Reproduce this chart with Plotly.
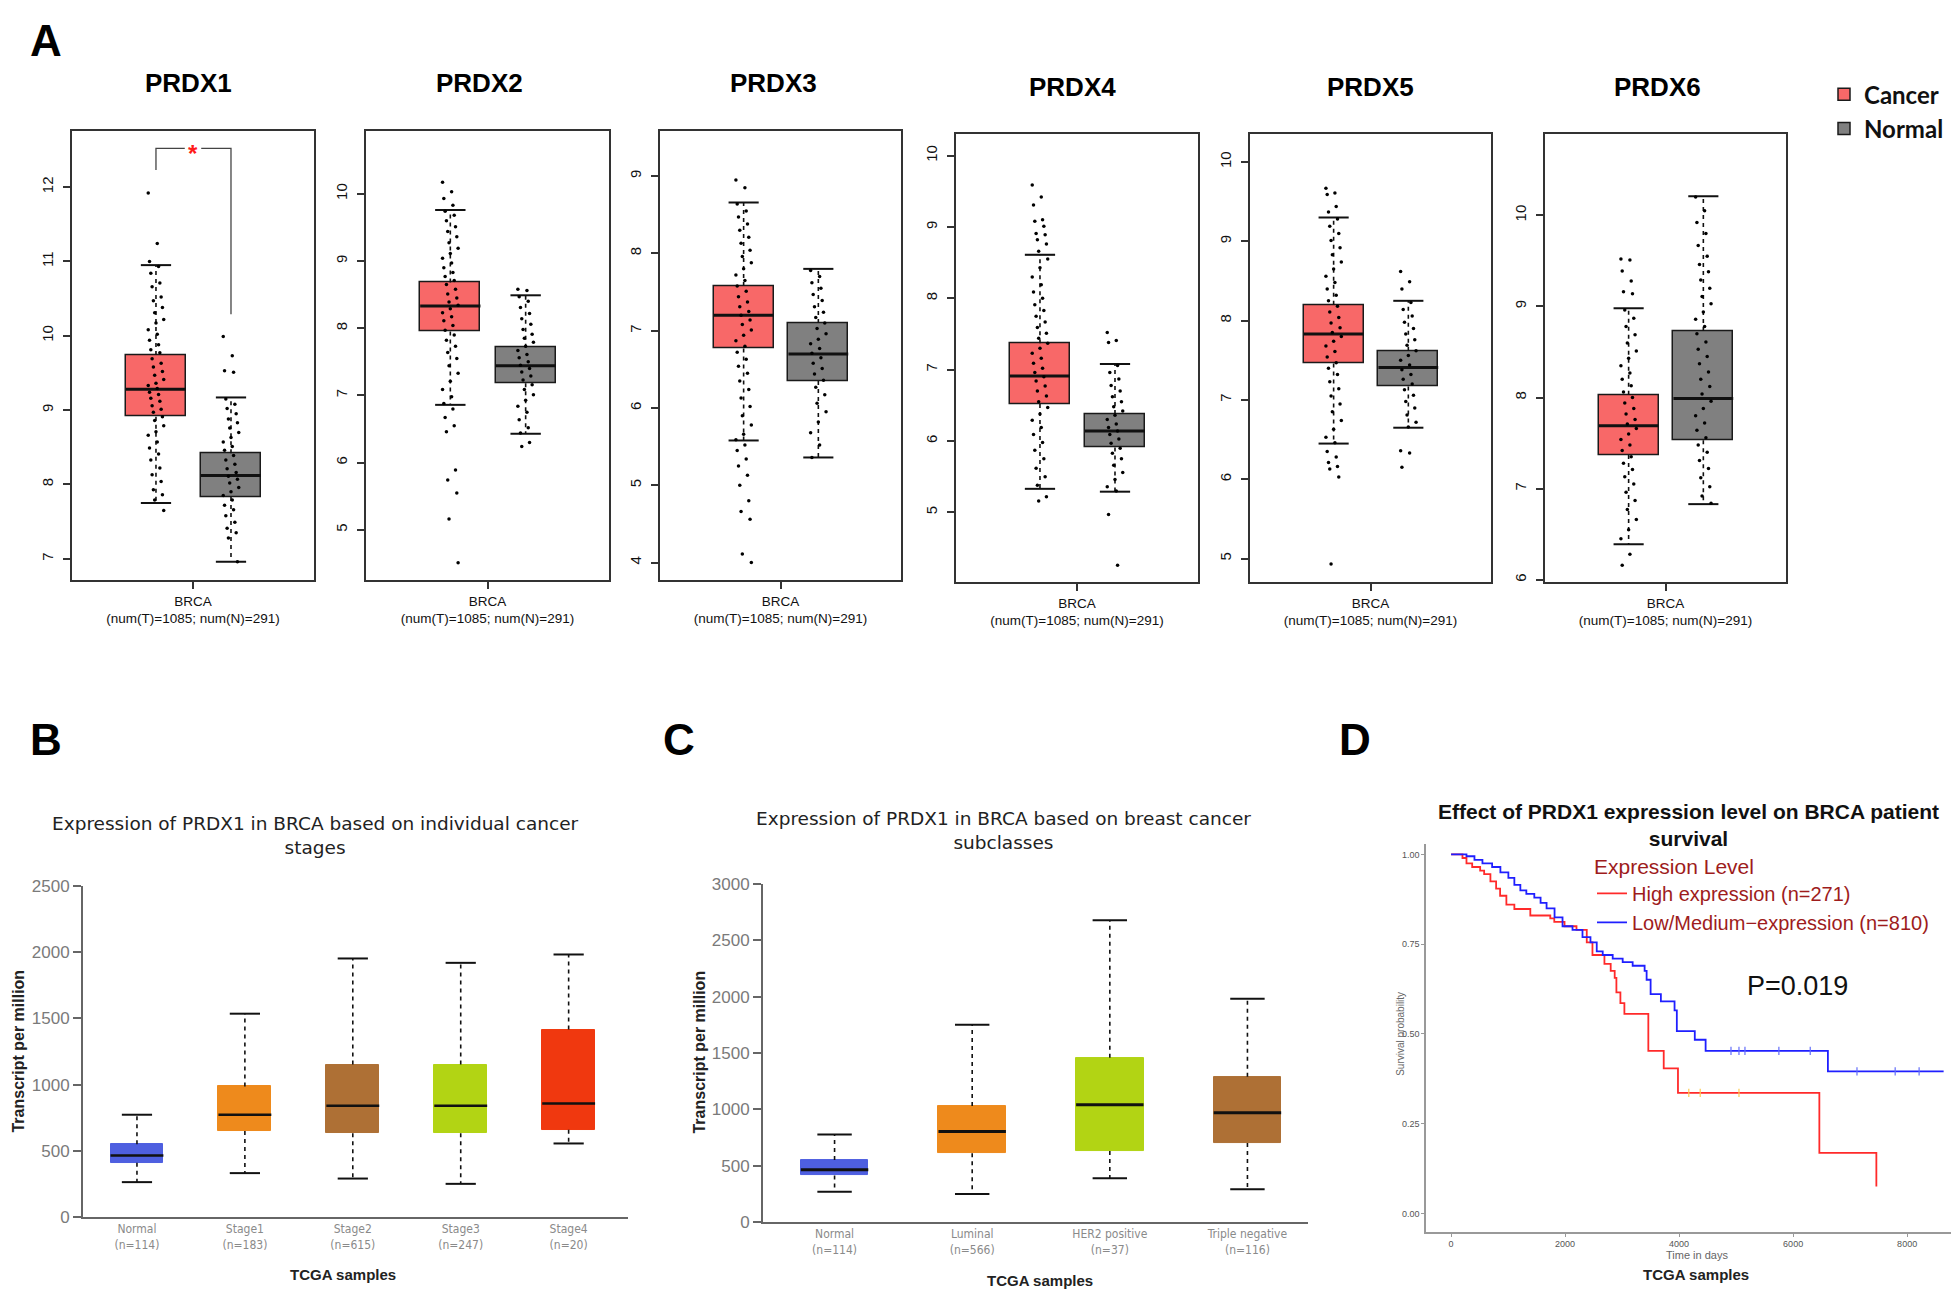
import plotly.graph_objects as go

W, H = 1959, 1292

# ---------------- Panel A: GEPIA box plots (log2(TPM+1)) ----------------
genes = ["PRDX1", "PRDX2", "PRDX3", "PRDX4", "PRDX5", "PRDX6"]
cancer_low = [7.75, 6.86, 5.58, 5.33, 6.45, 6.39]
cancer_q1 = [8.91, 7.95, 6.77, 6.52, 7.46, 7.37]
cancer_median = [9.28, 8.33, 7.20, 6.91, 7.83, 7.69]
cancer_q3 = [9.74, 8.68, 7.58, 7.37, 8.20, 8.03]
cancer_high = [10.95, 9.76, 8.66, 8.61, 9.30, 8.98]
normal_low = [6.96, 6.43, 5.36, 5.29, 6.65, 6.83]
normal_q1 = [7.83, 7.18, 6.35, 5.91, 7.17, 7.53]
normal_median = [8.12, 7.44, 6.70, 6.14, 7.41, 7.99]
normal_q3 = [8.42, 7.71, 7.10, 6.38, 7.62, 8.73]
normal_high = [9.17, 8.49, 7.80, 7.08, 8.25, 10.21]
brca_label = "BRCA<br>(num(T)=1085; num(N)=291)"

# sample dots (sparse tails exact, dense core estimated)
prdx1_cancer_pts = [11.92, 11.24, 11.0, 10.93, 10.84, 10.71, 10.66, 10.52, 10.47, 10.38, 10.31, 10.22,
                    10.17, 10.08, 10.02, 9.94, 9.88, 9.81, 9.77, 9.69, 9.63, 9.58, 9.52, 9.47, 9.41,
                    9.36, 9.33, 9.29, 9.24, 9.21, 9.16, 9.12, 9.06, 9.01, 8.97, 8.91, 8.86, 8.79, 8.71,
                    8.66, 8.57, 8.49, 8.41, 8.33, 8.22, 8.13, 8.04, 7.93, 7.86, 7.79, 7.65]
prdx1_normal_pts = [9.99, 9.73, 9.53, 9.51, 9.15, 9.08, 9.02, 8.95, 8.88, 8.83, 8.76, 8.7, 8.63, 8.57,
                    8.51, 8.46, 8.39, 8.33, 8.27, 8.21, 8.16, 8.11, 8.07, 8.02, 7.96, 7.9, 7.85, 7.79,
                    7.72, 7.66, 7.58, 7.49, 7.41, 7.35, 7.28, 6.96]
prdx2_cancer_pts = [10.17, 10.03, 9.93, 9.83, 9.74, 9.68, 9.6, 9.51, 9.44, 9.36, 9.27, 9.19, 9.11, 9.04,
                    8.97, 8.9, 8.83, 8.77, 8.71, 8.65, 8.58, 8.51, 8.45, 8.39, 8.34, 8.29, 8.23, 8.17,
                    8.11, 8.04, 7.97, 7.9, 7.82, 7.73, 7.64, 7.55, 7.44, 7.33, 7.21, 7.09, 6.98, 6.88,
                    6.80, 6.67, 6.55, 6.46, 5.89, 5.74, 5.55, 5.16, 4.51]
prdx2_normal_pts = [8.58, 8.56, 8.47, 8.4, 8.31, 8.22, 8.14, 8.06, 7.98, 7.91, 7.85, 7.79, 7.73, 7.67,
                    7.61, 7.56, 7.5, 7.45, 7.4, 7.35, 7.29, 7.23, 7.16, 7.09, 7.01, 6.93, 6.84, 6.75,
                    6.64, 6.52, 6.44, 6.30, 6.24]
prdx3_cancer_pts = [8.95, 8.85, 8.64, 8.55, 8.47, 8.38, 8.3, 8.21, 8.13, 8.04, 7.96, 7.88, 7.8, 7.72,
                    7.65, 7.58, 7.51, 7.44, 7.37, 7.31, 7.25, 7.2, 7.14, 7.08, 7.01, 6.94, 6.87, 6.8,
                    6.72, 6.63, 6.54, 6.45, 6.35, 6.24, 6.13, 6.02, 5.9, 5.78, 5.66, 5.59, 5.52, 5.45,
                    5.34, 5.25, 5.13, 5.0, 4.80, 4.66, 4.56, 4.11, 4.0]
prdx3_normal_pts = [7.78, 7.7, 7.62, 7.55, 7.47, 7.39, 7.31, 7.24, 7.17, 7.1, 7.03, 6.96, 6.89, 6.83,
                    6.77, 6.71, 6.65, 6.58, 6.51, 6.44, 6.36, 6.27, 6.17, 6.06, 5.95, 5.82, 5.68, 5.52,
                    5.36]
prdx4_cancer_pts = [9.59, 9.42, 9.31, 9.10, 9.08, 9.01, 8.91, 8.89, 8.82, 8.76, 8.66, 8.55, 8.43, 8.3,
                    8.19, 8.09, 8.0, 7.91, 7.83, 7.75, 7.67, 7.59, 7.51, 7.44, 7.37, 7.3, 7.23, 7.16,
                    7.09, 7.02, 6.96, 6.9, 6.84, 6.77, 6.7, 6.63, 6.55, 6.47, 6.38, 6.29, 6.19, 6.09,
                    5.98, 5.87, 5.75, 5.62, 5.5, 5.38, 5.22, 5.16]
prdx4_normal_pts = [7.52, 7.41, 7.38, 7.06, 6.96, 6.87, 6.78, 6.7, 6.62, 6.55, 6.48, 6.42, 6.36, 6.3,
                    6.24, 6.19, 6.14, 6.09, 6.03, 5.97, 5.9, 5.83, 5.75, 5.66, 5.56, 5.46, 5.36, 5.3,
                    4.97, 4.26]
prdx5_cancer_pts = [9.67, 9.61, 9.59, 9.44, 9.37, 9.28, 9.19, 9.1, 9.01, 8.92, 8.83, 8.74, 8.65, 8.56,
                    8.48, 8.4, 8.32, 8.25, 8.18, 8.11, 8.04, 7.97, 7.91, 7.85, 7.8, 7.74, 7.68, 7.61,
                    7.54, 7.47, 7.4, 7.32, 7.23, 7.14, 7.05, 6.95, 6.85, 6.74, 6.63, 6.53, 6.46, 6.35,
                    6.28, 6.21, 6.16, 6.13, 6.03, 4.93]
prdx5_normal_pts = [8.62, 8.49, 8.40, 8.23, 8.14, 8.06, 7.98, 7.9, 7.83, 7.76, 7.69, 7.62, 7.56, 7.5,
                    7.44, 7.38, 7.32, 7.26, 7.2, 7.13, 7.06, 6.98, 6.9, 6.81, 6.72, 6.66, 6.36, 6.33,
                    6.15]
prdx6_cancer_pts = [9.52, 9.51, 9.39, 9.28, 9.16, 9.14, 8.96, 8.87, 8.78, 8.69, 8.6, 8.51, 8.43, 8.35,
                    8.27, 8.2, 8.13, 8.06, 8.0, 7.94, 7.88, 7.82, 7.76, 7.71, 7.66, 7.6, 7.54, 7.48,
                    7.42, 7.35, 7.28, 7.21, 7.13, 7.05, 6.96, 6.87, 6.77, 6.66, 6.55, 6.45, 6.28, 6.16]
prdx6_normal_pts = [10.2, 10.05, 9.92, 9.8, 9.67, 9.55, 9.46, 9.38, 9.29, 9.2, 9.11, 9.03, 8.94, 8.86,
                    8.78, 8.7, 8.61, 8.53, 8.45, 8.37, 8.28, 8.2, 8.12, 8.04, 7.96, 7.88, 7.8, 7.72,
                    7.64, 7.56, 7.48, 7.4, 7.31, 7.22, 7.12, 7.02, 6.92, 6.84]
cancer_pts = [prdx1_cancer_pts, prdx2_cancer_pts, prdx3_cancer_pts,
              prdx4_cancer_pts, prdx5_cancer_pts, prdx6_cancer_pts]
normal_pts = [prdx1_normal_pts, prdx2_normal_pts, prdx3_normal_pts,
              prdx4_normal_pts, prdx5_normal_pts, prdx6_normal_pts]

# PRDX1 significance bracket: left foot, bar, right foot
sig_levels = [12.23, 12.52, 10.29]

# ---------------- Panel B: UALCAN stages (TPM) ----------------
stage_labels = ["Normal<br>(n=114)", "Stage1<br>(n=183)", "Stage2<br>(n=615)",
                "Stage3<br>(n=247)", "Stage4<br>(n=20)"]
stage_low = [264, 332, 291, 251, 556]
stage_q1 = [411, 651, 634, 634, 659]
stage_median = [466, 773, 841, 841, 858]
stage_q3 = [550, 986, 1152, 1152, 1416]
stage_high = [773, 1536, 1953, 1920, 1983]

# ---------------- Panel C: UALCAN subclasses (TPM) ----------------
sub_labels = ["Normal<br>(n=114)", "Luminal<br>(n=566)", "HER2 positive<br>(n=37)",
              "Triple negative<br>(n=116)"]
sub_low = [268, 248, 389, 290]
sub_q1 = [414, 611, 631, 701]
sub_median = [465, 803, 1041, 971]
sub_q3 = [551, 1029, 1459, 1290]
sub_high = [777, 1752, 2678, 1981]

# ---------------- Panel D: Kaplan-Meier ----------------
high_t = [0, 200, 270, 370, 510, 580, 690, 790, 860, 970, 1110, 1390, 1740, 1810, 1990, 2200,
          2380, 2480, 2690, 2800, 2870, 2900, 2970, 3040, 3460, 3730, 3980, 6460, 7460]
high_s = [1.0, 0.99, 0.975, 0.965, 0.955, 0.945, 0.925, 0.905, 0.885, 0.86, 0.848, 0.83, 0.822,
          0.812, 0.80, 0.79, 0.755, 0.72, 0.695, 0.676, 0.656, 0.616, 0.586, 0.556, 0.453, 0.404,
          0.336, 0.169, 0.075]
low_t = [0, 270, 410, 550, 720, 865, 1005, 1110, 1215, 1320, 1460, 1570, 1675, 1815, 1955, 2130,
         2305, 2445, 2555, 2660, 2835, 3010, 3185, 3395, 3430, 3500, 3680, 3920, 3960, 4275, 4465,
         6610, 8640]
low_s = [1.0, 0.995, 0.985, 0.975, 0.965, 0.95, 0.935, 0.915, 0.90, 0.89, 0.88, 0.865, 0.85, 0.825,
         0.80, 0.79, 0.77, 0.755, 0.73, 0.72, 0.71, 0.70, 0.69, 0.676, 0.651, 0.611, 0.591, 0.566,
         0.508, 0.484, 0.453, 0.396, 0.396]
high_censor_t = [4170, 4370, 5050]
high_censor_s = [0.336, 0.336, 0.336]
low_censor_t = [4910, 5050, 5155, 5750, 6300, 7120, 7790, 8210]
low_censor_s = [0.453, 0.453, 0.453, 0.453, 0.453, 0.396, 0.396, 0.396]

# ---------------- styling ----------------
CANCER_FILL = "#F86868"
NORMAL_FILL = "#808080"
UAL_BLUE, UAL_ORANGE, UAL_BROWN = "#4E5FE0", "#EE8A1C", "#AE7035"
UAL_GREEN, UAL_RED = "#B2D414", "#F0380F"
stage_colors = [UAL_BLUE, UAL_ORANGE, UAL_BROWN, UAL_GREEN, UAL_RED]
sub_colors = [UAL_BLUE, UAL_ORANGE, UAL_GREEN, UAL_BROWN]
DARKRED = "#9E1C1C"
ARIAL = "Liberation Sans, Arial, sans-serif"

POS = (0.347, 0.657)   # cancer / normal box centres within a panel
BOX_W = 0.248
CAP_W = 0.125
JIT = 0.032

# panel frames in pixels: (left, right, top, bottom) and y ranges
frames_a = [(64, 306, 116, 571), (358, 601, 116, 571), (652, 893, 116, 571),
            (948, 1190, 119, 573), (1242, 1483, 119, 573), (1537, 1778, 119, 573)]
yranges_a = [(6.72, 12.75), (4.26, 10.93), (3.78, 9.58), (4.03, 10.30), (4.71, 10.35), (5.98, 10.89)]
title_pos_a = [(180, 67), (471, 67), (765, 67), (1064, 71), (1362, 71), (1649, 71)]


def ax_names(i):
    return ("x", "y") if i == 1 else (f"x{i}", f"y{i}")


def dom_x(l, r):
    return [l / W, r / W]


def dom_y(t, b):
    return [1 - b / H, 1 - t / H]


fig = go.Figure()


def add_box(xa, ya, cx, lo, q1, med, q3, hi, width, cap, fill, outline, mcolor, mwidth,
            name=None, legend=False):
    fig.add_trace(go.Bar(
        x=[cx], y=[q3 - q1], base=[q1], width=width, name=name, showlegend=legend,
        marker=dict(color=fill, line=dict(color=outline, width=1.5 if outline != fill else 1)),
        xaxis=xa, yaxis=ya, hoverinfo="skip"))
    fig.add_trace(go.Scatter(
        x=[cx, cx, None, cx, cx], y=[q3, hi, None, q1, lo], mode="lines",
        line=dict(color="#111", width=1.6, dash="4px,4px"), showlegend=False,
        xaxis=xa, yaxis=ya, hoverinfo="skip"))
    fig.add_trace(go.Scatter(
        x=[cx - cap / 2, cx + cap / 2, None, cx - cap / 2, cx + cap / 2], y=[hi, hi, None, lo, lo],
        mode="lines", line=dict(color="#111", width=2), showlegend=False,
        xaxis=xa, yaxis=ya, hoverinfo="skip"))
    fig.add_trace(go.Scatter(
        x=[cx - width / 2, cx + width / 2], y=[med, med], mode="lines",
        line=dict(color=mcolor, width=mwidth), showlegend=False,
        xaxis=xa, yaxis=ya, hoverinfo="skip"))


# ---- panel A ----
for i, gene in enumerate(genes):
    xa, ya = ax_names(i + 1)
    groups = [
        ("Cancer", CANCER_FILL, cancer_low[i], cancer_q1[i], cancer_median[i], cancer_q3[i],
         cancer_high[i], cancer_pts[i]),
        ("Normal", NORMAL_FILL, normal_low[i], normal_q1[i], normal_median[i], normal_q3[i],
         normal_high[i], normal_pts[i]),
    ]
    for (name, fill, lo, q1, med, q3, hi, pts), cx in zip(groups, POS):
        add_box(xa, ya, cx, lo, q1, med, q3, hi, BOX_W, CAP_W, fill, "#1a1a1a", "#111", 3,
                name=name, legend=(i == 0))
        jx = [cx + ((((k * 7) % 13) - 6) / 6) * JIT for k in range(len(pts))]
        fig.add_trace(go.Scatter(
            x=jx, y=pts, mode="markers", marker=dict(size=3.5, color="black"),
            showlegend=False, xaxis=xa, yaxis=ya, hoverinfo="skip"))

# significance bracket on PRDX1
fig.add_trace(go.Scatter(
    x=[POS[0], POS[0], 0.466, None, 0.534, POS[1], POS[1]],
    y=[sig_levels[0], sig_levels[1], sig_levels[1], None, sig_levels[1], sig_levels[1], sig_levels[2]],
    mode="lines", line=dict(color="#444", width=1.3), showlegend=False,
    xaxis="x", yaxis="y", hoverinfo="skip"))

# ---- panel B ----
for k in range(len(stage_labels)):
    add_box("x7", "y7", k, stage_low[k], stage_q1[k], stage_median[k], stage_q3[k], stage_high[k],
            0.49, 0.28, stage_colors[k], stage_colors[k], "#111", 2.5)

# ---- panel C ----
for k in range(len(sub_labels)):
    add_box("x8", "y8", k, sub_low[k], sub_q1[k], sub_median[k], sub_q3[k], sub_high[k],
            0.49, 0.25, sub_colors[k], sub_colors[k], "#111", 3)

# ---- panel D ----
fig.add_trace(go.Scatter(x=high_t, y=high_s, mode="lines", line_shape="hv",
                         line=dict(color="#FF2A2A", width=1.8), name="High expression (n=271)",
                         legend="legend2", xaxis="x9", yaxis="y9"))
fig.add_trace(go.Scatter(x=low_t, y=low_s, mode="lines", line_shape="hv",
                         line=dict(color="#1F1FFF", width=1.8), name="Low/Medium\u2212expression (n=810)",
                         legend="legend2", xaxis="x9", yaxis="y9"))
fig.add_trace(go.Scatter(x=high_censor_t, y=high_censor_s, mode="markers",
                         marker=dict(symbol="line-ns-open", size=6, line=dict(color="#FF2A2A", width=1.2)),
                         showlegend=False, xaxis="x9", yaxis="y9"))
fig.add_trace(go.Scatter(x=low_censor_t, y=low_censor_s, mode="markers",
                         marker=dict(symbol="line-ns-open", size=6, line=dict(color="#1F1FFF", width=1.2)),
                         showlegend=False, xaxis="x9", yaxis="y9"))

# ---------------- axes ----------------
layout = {}
for i in range(6):
    l, r, t, b = frames_a[i]
    xk = "xaxis" if i == 0 else f"xaxis{i + 1}"
    yk = "yaxis" if i == 0 else f"yaxis{i + 1}"
    xa, ya = ax_names(i + 1)
    lo, hi = yranges_a[i]
    layout[xk] = dict(domain=dom_x(l, r), range=[0, 1], tickvals=[0.5], ticktext=[brca_label],
                      anchor=ya, ticks="outside", ticklen=8, tickwidth=1.5, tickcolor="#333",
                      showline=True, mirror=True, linecolor="#333", linewidth=1.5,
                      showgrid=False, zeroline=False, fixedrange=True,
                      tickfont=dict(family=ARIAL, size=13.5, color="#111"))
    layout[yk] = dict(domain=dom_y(t, b), range=[lo, hi], dtick=1, tickangle=-90,
                      anchor=xa, ticks="outside", ticklen=7, tickwidth=1.5, tickcolor="#333",
                      ticklabelstandoff=4,
                      showline=True, mirror=True, linecolor="#333", linewidth=1.5,
                      showgrid=False, zeroline=False, fixedrange=True,
                      tickfont=dict(family=ARIAL, size=15, color="#111"))

ual_tick = dict(family="DejaVu Sans Condensed, DejaVu Sans, sans-serif", size=12, color="#8a8a8a")
ual_ytick = dict(family="Liberation Sans Narrow, Liberation Sans, Arial, sans-serif", size=17, color="#7a7a7a")
layout["xaxis7"] = dict(domain=dom_x(75, 620), range=[-0.5, 4.55], tickvals=list(range(5)),
                        ticktext=stage_labels, ticks="", showline=True, linecolor="#666", linewidth=2,
                        showgrid=False, zeroline=False, tickfont=ual_tick, anchor="y7")
layout["yaxis7"] = dict(domain=dom_y(882, 1218), range=[0, 2500], dtick=500, ticks="outside",
                        ticklen=8, tickwidth=2, tickcolor="#666", showline=True, linecolor="#666",
                        linewidth=2, showgrid=False, zeroline=False, tickfont=ual_ytick, anchor="x7")
layout["xaxis8"] = dict(domain=dom_x(755, 1300), range=[-0.52, 3.44], tickvals=list(range(4)),
                        ticktext=sub_labels, ticks="", showline=True, linecolor="#666", linewidth=2,
                        showgrid=False, zeroline=False, tickfont=ual_tick, anchor="y8")
layout["yaxis8"] = dict(domain=dom_y(880, 1223), range=[0, 3000], dtick=500, ticks="outside",
                        ticklen=8, tickwidth=2, tickcolor="#666", showline=True, linecolor="#666",
                        linewidth=2, showgrid=False, zeroline=False, tickfont=ual_ytick, anchor="x8")
km_tick = dict(family=ARIAL, size=9, color="#555")
layout["xaxis9"] = dict(domain=dom_x(1418, 1959), range=[-440, 9050], tickvals=[0, 2000, 4000, 6000, 8000],
                        ticks="outside", ticklen=3, tickcolor="#999", showline=True, linecolor="#999",
                        linewidth=1.5, showgrid=False, zeroline=False, tickfont=km_tick, anchor="y9")
layout["yaxis9"] = dict(domain=dom_y(839, 1233), range=[-0.051, 1.03], tickvals=[0, 0.25, 0.5, 0.75, 1.0],
                        tickformat=".2f", ticks="outside", ticklen=3, tickcolor="#999", showline=True,
                        linecolor="#999", linewidth=1.5, showgrid=False, zeroline=False,
                        tickfont=km_tick, anchor="x9")

# ---------------- text ----------------
ann = []


def text(px, py, s, size, color="#111", family=ARIAL, bold=False, angle=0, xanchor="center"):
    ann.append(dict(x=px / W, y=1 - py / H, xref="paper", yref="paper", text=s, showarrow=False,
                    xanchor=xanchor, yanchor="middle", textangle=angle,
                    font=dict(family=family, size=size, color=color, weight="bold" if bold else "normal")))


for lab, (px, py) in zip(["A", "B", "C", "D"], [(38, 24), (38, 733), (671, 733), (1347, 733)]):
    text(px, py, lab, 44, "#000", bold=True)
for gene, (px, py) in zip(genes, title_pos_a):
    text(px, py, gene, 26, "#000", bold=True)

ann.append(dict(x=0.5, y=sig_levels[1], xref="x", yref="y", text="*", showarrow=False,
                yshift=-5, font=dict(family=ARIAL, size=24, color="#FF1A1A", weight="bold")))

dejavu = "DejaVu Sans, Verdana, sans-serif"
text(307, 831, "Expression of PRDX1 in BRCA based on individual cancer<br>stages", 18.5, "#222", dejavu)
text(995, 826, "Expression of PRDX1 in BRCA based on breast cancer<br>subclasses", 18.5, "#222", dejavu)
text(1680, 820, "Effect of PRDX1 expression level on BRCA patient<br>survival", 21, "#111", bold=True)
text(11, 1050, "Transcript per million", 16, "#222", bold=True, angle=-90)
text(692, 1051, "Transcript per million", 16, "#222", bold=True, angle=-90)
text(335, 1276, "TCGA samples", 15, "#222", bold=True)
text(1032, 1282, "TCGA samples", 15, "#222", bold=True)
text(1688, 1276, "TCGA samples", 15, "#222", bold=True)
text(1393, 1032, "Survival probability", 10, "#666", angle=-90)
text(1689, 1256, "Time in days", 11, "#666")
text(1789, 983, "P=0.019", 27, "#111")

fig.update_layout(
    width=W, height=H, autosize=False,
    margin=dict(l=0, r=0, t=0, b=0),
    paper_bgcolor="white", plot_bgcolor="white",
    barmode="overlay", bargap=0,
    annotations=ann,
    legend=dict(x=1816 / W, y=1 - 56 / H, xanchor="left", yanchor="top",
                bgcolor="rgba(0,0,0,0)", itemwidth=30, tracegroupgap=4,
                font=dict(family="Lato, Open Sans, sans-serif", size=24, color="#111", weight="bold")),
    legend2=dict(x=1584 / W, y=1 - 842 / H, xanchor="left", yanchor="top",
                 bgcolor="rgba(0,0,0,0)", itemwidth=30,
                 title=dict(text="Expression Level", font=dict(family=ARIAL, size=21, color=DARKRED)),
                 font=dict(family=ARIAL, size=20, color=DARKRED)),
    **layout,
)

fig.write_html("out.html")
